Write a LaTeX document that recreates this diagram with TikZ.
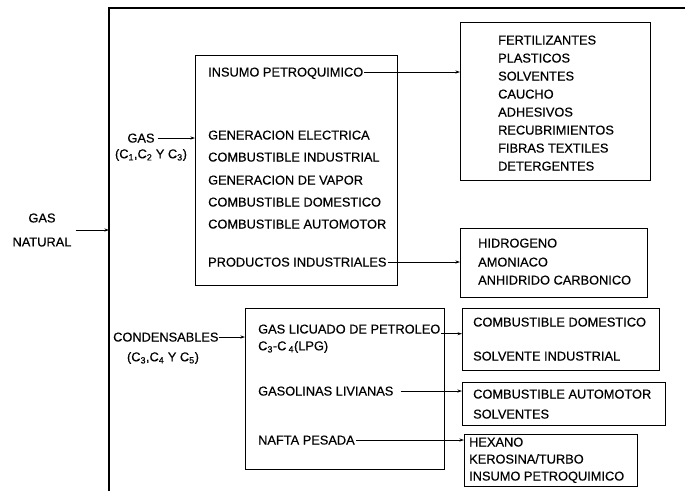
\documentclass[tikz,border=0pt]{standalone}
\usepackage{fontspec}
\setmainfont{Liberation Sans}[BoldFont={Liberation Sans},BoldFeatures={FakeBold=0.5}]
\usetikzlibrary{arrows.meta}
\begin{document}
\begin{tikzpicture}[x=1pt,y=-1pt,
  txt/.style={anchor=west, inner sep=0pt, text height=9pt, text depth=0pt,
    font=\fontsize{12.8}{15}\selectfont\bfseries},
  ctxt/.style={inner sep=0pt, font=\fontsize{12.8}{15}\selectfont\bfseries},
  box/.style={draw, line width=0.9pt, anchor=north west, inner sep=0pt},
  frame/.style={line width=1.3pt},
  arr/.style={-{Stealth[length=4.5pt,width=3pt]}, line width=0.7pt}]
\useasboundingbox (0,0) rectangle (685,491);
% main frame
\coordinate (rt) at (685,8);
\coordinate (lt) at (109,8);
\coordinate (lb) at (109,491);
\draw[frame] (rt) -- (lt) -- (lb);
% gas natural
\node[ctxt, align=center] (gn) at (42,230) {GAS\\[9pt]NATURAL};
\draw[arr] ([xshift=4pt]gn.east) -- (gn.east -| lt);
% boxes
\node[box, minimum width=202pt, minimum height=230pt] (b1) at (195,55) {};
\node[box, minimum width=190pt, minimum height=158pt] (b2) at (460,22) {};
\node[box, minimum width=187pt, minimum height=69pt] (b3) at (460,228) {};
\node[box, minimum width=199pt, minimum height=161pt] (b4) at (245,308) {};
\node[box, minimum width=197pt, minimum height=62pt] (b5) at (462,308) {};
\node[box, minimum width=203pt, minimum height=43pt] (b6) at (462,382) {};
\node[box, minimum width=173pt, minimum height=52pt] (b7) at (464,434) {};
% gas
\node[txt, anchor=center] (gas) at (141,138) {GAS};
\node[ctxt] (gasf) at (151,155) {(C\textsubscript{1},C\textsubscript{2} Y C\textsubscript{3})};
\draw[arr] ([xshift=3pt]gas.east) -- (gas.east -| b1.west);
% box 1 contents
\node[txt] (ip) at (208,72) {INSUMO PETROQUIMICO};
\node[txt] (ge) at (208,135) {GENERACION ELECTRICA};
\node[txt] (ci) at (208,157) {COMBUSTIBLE INDUSTRIAL};
\node[txt] (gv) at (208,180) {GENERACION DE VAPOR};
\node[txt] (cd) at (208,202) {COMBUSTIBLE DOMESTICO};
\node[txt] (ca) at (208,224) {COMBUSTIBLE AUTOMOTOR};
\node[txt] (pi) at (208,262) {PRODUCTOS INDUSTRIALES};
\draw[arr] ([xshift=1pt]ip.east) -- (ip.east -| b2.west);
\draw[arr] ([xshift=1pt]pi.east) -- (pi.east -| b3.west);
% box 2 contents
\node[txt] (f1) at (498,40) {FERTILIZANTES};
\node[txt] (f2) at (498,58) {PLASTICOS};
\node[txt] (f3) at (498,76) {SOLVENTES};
\node[txt] (f4) at (498,94) {CAUCHO};
\node[txt] (f5) at (498,112) {ADHESIVOS};
\node[txt] (f6) at (498,130) {RECUBRIMIENTOS};
\node[txt] (f7) at (498,148) {FIBRAS TEXTILES};
\node[txt] (f8) at (498,166) {DETERGENTES};
% box 3 contents
\node[txt] (h1) at (478,243) {HIDROGENO};
\node[txt] (h2) at (478,262) {AMONIACO};
\node[txt] (h3) at (478,280) {ANHIDRIDO CARBONICO};
% condensables
\node[txt] (cond) at (113,337) {CONDENSABLES};
\node[ctxt] (condf) at (163,358) {(C\textsubscript{3},C\textsubscript{4} Y C\textsubscript{5})};
\draw[arr] (cond.east) -- (cond.east -| b4.west);
% box 4 contents
\node[txt] (glp) at (258,329) {GAS LICUADO DE PETROLEO};
\node[ctxt, anchor=west] (lpg) at (258,347) {C\textsubscript{3}-C\,\textsubscript{4}(LPG)};
\node[txt] (gl) at (258,391) {GASOLINAS LIVIANAS};
\node[txt] (np) at (258,440) {NAFTA PESADA};
\draw[arr] ([xshift=1pt]glp.south east) -- (glp.south east -| b5.west);
\draw[arr] ([xshift=7pt]gl.east) -- (gl.east -| b6.west);
\draw[arr] ([xshift=1pt]np.east) -- (np.east -| b7.west);
% box 5-7 contents
\node[txt] (d1) at (473,322) {COMBUSTIBLE DOMESTICO};
\node[txt] (d2) at (473,356) {SOLVENTE INDUSTRIAL};
\node[txt] (a1) at (473,394) {COMBUSTIBLE AUTOMOTOR};
\node[txt] (a2) at (473,414) {SOLVENTES};
\node[txt] (k1) at (469,442) {HEXANO};
\node[txt] (k2) at (469,459) {KEROSINA/TURBO};
\node[txt] (k3) at (469,476) {INSUMO PETROQUIMICO};
\end{tikzpicture}
\end{document}
